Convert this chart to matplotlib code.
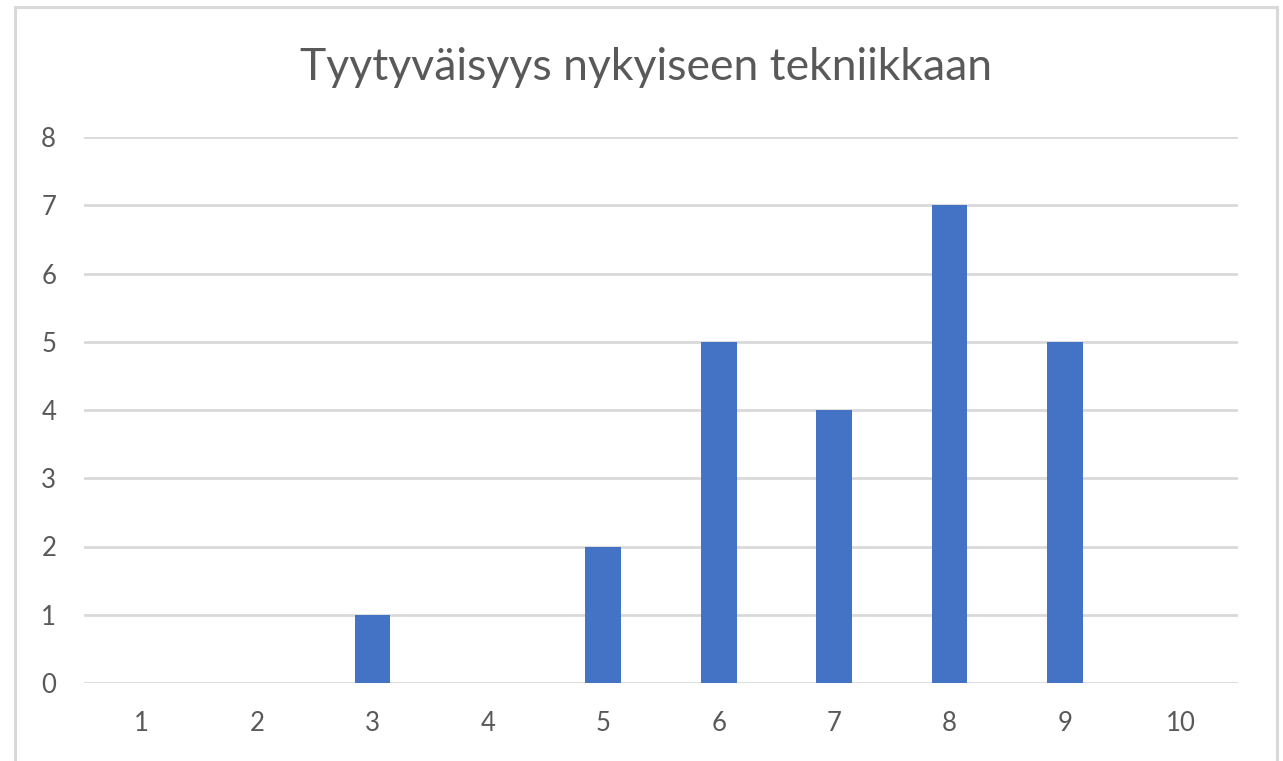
import matplotlib

matplotlib.use("Agg")
import matplotlib.pyplot as plt
from matplotlib.patches import Rectangle

# data
categories = ["1", "2", "3", "4", "5", "6", "7", "8", "9", "10"]
counts = [0, 0, 1, 0, 2, 5, 4, 7, 5, 0]
y_ticks = [0, 1, 2, 3, 4, 5, 6, 7, 8]
title = "Tyytyväisyys nykyiseen tekniikkaan"

W, H = 1283, 761
TEXT = "#595959"
GRID = "#D9D9D9"
BAR = "#4472C4"

plt.rcParams["font.family"] = ["Lato", "DejaVu Sans"]

fig = plt.figure(figsize=(W / 100, H / 100), dpi=100)
fig.patch.set_facecolor("white")

# light chart frame (bottom edge is cropped off in the reference)
fig.add_artist(Rectangle((15 / W, -0.05), (1277 - 15) / W, 1.05 - 7 / H,
                         transform=fig.transFigure, fill=False,
                         edgecolor=GRID, linewidth=2.2))

left, right = 84 / W, 1238 / W
bottom, top = 1 - 683 / H, 1 - 137 / H
ax = fig.add_axes([left, bottom, right - left, top - bottom])

x = list(range(1, len(categories) + 1))
ax.bar(x, counts, width=0.31, color=BAR, zorder=3)

ax.set_xlim(0.5, len(categories) + 0.5)
ax.set_ylim(0, 8)
ax.set_xticks(x)
ax.set_xticklabels(categories)
ax.set_yticks(y_ticks)
ax.set_yticklabels([str(v) for v in y_ticks])

ax.yaxis.grid(True, color=GRID, linewidth=2.0)
ax.set_axisbelow(True)
for s in ax.spines.values():
    s.set_visible(False)
ax.tick_params(axis="both", length=0, labelsize=18.5, colors=TEXT)
ax.tick_params(axis="x", pad=20)
ax.tick_params(axis="y", pad=20)

fig.text(646 / W, 1 - 68 / H, title, ha="center", va="center",
         fontsize=32, color=TEXT)

fig.savefig("out.png", dpi=100)
